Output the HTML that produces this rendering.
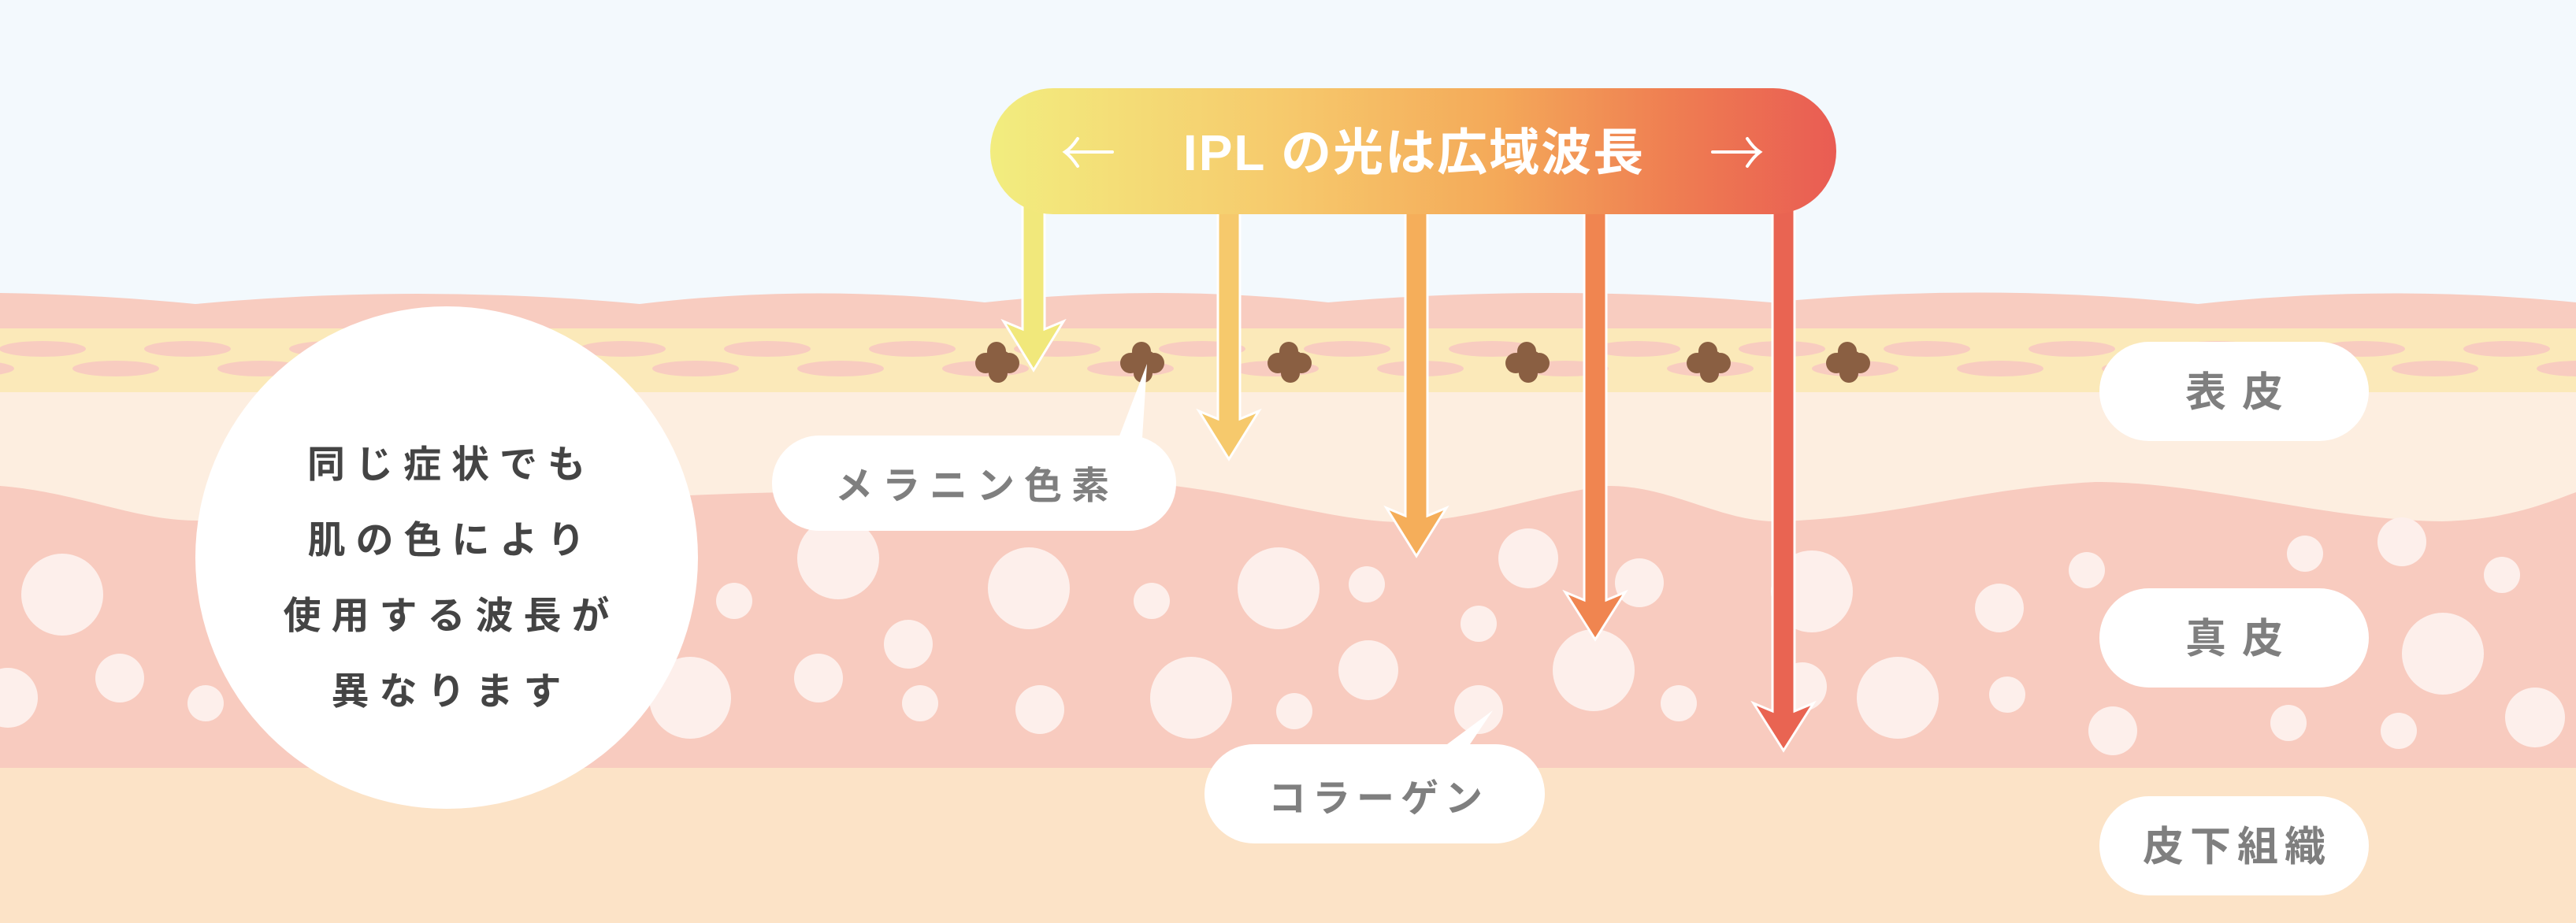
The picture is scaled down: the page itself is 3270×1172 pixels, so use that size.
<!DOCTYPE html>
<html><head><meta charset="utf-8"><style>
html,body{margin:0;padding:0;background:#f3f9fd;}
svg{display:block;}
text{font-family:"Liberation Sans","Noto Sans CJK JP",sans-serif;}
</style></head><body>
<svg width="3270" height="1172" viewBox="0 0 3270 1172" xmlns="http://www.w3.org/2000/svg">
<defs>
<linearGradient id="g" x1="0" x2="1" y1="0" y2="0">
<stop offset="0" stop-color="#f2ed7f"/>
<stop offset="0.35" stop-color="#f6c96c"/>
<stop offset="0.6" stop-color="#f4a959"/>
<stop offset="0.8" stop-color="#ef7f52"/>
<stop offset="1" stop-color="#e95c53"/>
</linearGradient>
<g id="mel"><circle cx="-1" cy="-14" r="12"/><circle cx="-15" cy="1" r="13"/><circle cx="15" cy="1" r="13"/><circle cx="1" cy="14" r="12"/><rect x="-15" y="-14" width="30" height="28" rx="6"/></g>
</defs>
<rect width="3270" height="1172" fill="#f3f9fd"/>
<path d="M0 372 Q124 374 248 386 Q530 360 812 386 Q1030 360 1250 384 Q1470 360 1686 384 Q1970 360 2248 384 Q2520 358 2790 386 Q3030 360 3270 384 L3270 1172 L0 1172 Z" fill="#f8ccc0"/>
<rect x="0" y="417" width="3270" height="81" fill="#fbe9b9"/>
<rect x="0" y="498" width="3270" height="200" fill="#fdeee0"/>
<path d="M0 617 C100 625 170 661 250 661 C500 655 750 630 1000 625 C1200 620 1350 612 1491 617 C1600 630 1700 663 1780 663 C1880 660 1960 625 2042 617 C2120 617 2180 660 2250 662 C2400 660 2500 620 2660 612 C2800 612 2950 660 3100 662 C3180 660 3230 640 3270 625 L3270 975 L0 975 Z" fill="#f8cbbf"/>
<rect x="0" y="975" width="3270" height="197" fill="#fce3c7"/>
<g fill="#fdefeb">
<circle cx="79" cy="755" r="52"/><circle cx="152" cy="861" r="31"/><circle cx="261" cy="893" r="23"/><circle cx="10" cy="886" r="38"/>
<circle cx="876" cy="886" r="52"/><circle cx="932" cy="763" r="23"/><circle cx="1064" cy="709" r="52"/><circle cx="1153" cy="818" r="31"/>
<circle cx="1039" cy="861" r="31"/><circle cx="1168" cy="893" r="23"/><circle cx="1306" cy="747" r="52"/><circle cx="1320" cy="901" r="31"/>
<circle cx="1462" cy="763" r="23"/><circle cx="1512" cy="886" r="52"/><circle cx="1623" cy="747" r="52"/><circle cx="1643" cy="903" r="23"/>
<circle cx="1737" cy="851" r="38"/><circle cx="1735" cy="742" r="23"/><circle cx="1877" cy="792" r="23"/><circle cx="1877" cy="901" r="31"/>
<circle cx="1940" cy="709" r="38"/><circle cx="2023" cy="851" r="52"/><circle cx="2081" cy="740" r="31"/><circle cx="2131" cy="893" r="23"/>
<circle cx="2288" cy="872" r="31"/><circle cx="2300" cy="751" r="52"/><circle cx="2409" cy="886" r="52"/><circle cx="2538" cy="772" r="31"/>
<circle cx="2548" cy="882" r="23"/><circle cx="2649" cy="724" r="23"/><circle cx="2682" cy="928" r="31"/><circle cx="2905" cy="918" r="23"/>
<circle cx="2926" cy="703" r="23"/><circle cx="3049" cy="688" r="31"/><circle cx="3101" cy="830" r="52"/><circle cx="3176" cy="730" r="23"/>
<circle cx="3218" cy="911" r="38"/><circle cx="3045" cy="928" r="23"/>
</g>
<g fill="#f8ccc0">
<ellipse cx="54" cy="443" rx="55" ry="10"/><ellipse cx="238" cy="443" rx="55" ry="10"/><ellipse cx="422" cy="443" rx="55" ry="10"/><ellipse cx="606" cy="443" rx="55" ry="10"/><ellipse cx="790" cy="443" rx="55" ry="10"/><ellipse cx="974" cy="443" rx="55" ry="10"/><ellipse cx="1158" cy="443" rx="55" ry="10"/><ellipse cx="1342" cy="443" rx="55" ry="10"/><ellipse cx="1526" cy="443" rx="55" ry="10"/><ellipse cx="1710" cy="443" rx="55" ry="10"/><ellipse cx="1894" cy="443" rx="55" ry="10"/><ellipse cx="2078" cy="443" rx="55" ry="10"/><ellipse cx="2262" cy="443" rx="55" ry="10"/><ellipse cx="2446" cy="443" rx="55" ry="10"/><ellipse cx="2630" cy="443" rx="55" ry="10"/><ellipse cx="2814" cy="443" rx="55" ry="10"/><ellipse cx="2998" cy="443" rx="55" ry="10"/><ellipse cx="3182" cy="443" rx="55" ry="10"/>
<ellipse cx="-37" cy="468" rx="55" ry="10"/><ellipse cx="147" cy="468" rx="55" ry="10"/><ellipse cx="331" cy="468" rx="55" ry="10"/><ellipse cx="515" cy="468" rx="55" ry="10"/><ellipse cx="699" cy="468" rx="55" ry="10"/><ellipse cx="883" cy="468" rx="55" ry="10"/><ellipse cx="1067" cy="468" rx="55" ry="10"/><ellipse cx="1251" cy="468" rx="55" ry="10"/><ellipse cx="1435" cy="468" rx="55" ry="10"/><ellipse cx="1619" cy="468" rx="55" ry="10"/><ellipse cx="1803" cy="468" rx="55" ry="10"/><ellipse cx="1987" cy="468" rx="55" ry="10"/><ellipse cx="2171" cy="468" rx="55" ry="10"/><ellipse cx="2355" cy="468" rx="55" ry="10"/><ellipse cx="2539" cy="468" rx="55" ry="10"/><ellipse cx="2723" cy="468" rx="55" ry="10"/><ellipse cx="2907" cy="468" rx="55" ry="10"/><ellipse cx="3091" cy="468" rx="55" ry="10"/><ellipse cx="3275" cy="468" rx="55" ry="10"/>
</g>
<g fill="#8a5f42">
<use href="#mel" x="1266" y="460"/><use href="#mel" x="1450" y="460"/><use href="#mel" x="1637" y="460"/><use href="#mel" x="1939" y="460"/><use href="#mel" x="2169" y="460"/><use href="#mel" x="2346" y="460"/>
</g>
<circle cx="567" cy="708" r="319" fill="#fff"/>
<g font-size="48" font-weight="bold" fill="#444" text-anchor="middle" letter-spacing="13">
<text x="573" y="606">同じ症状でも</text>
<text x="573" y="702">肌の色により</text>
<text x="573" y="798">使用する波長が</text>
<text x="573" y="894">異なります</text>
</g>
<g stroke="#fff" stroke-width="3" stroke-linejoin="miter">
<path d="M1298 260 L1298 418 L1274 408 L1312 470 L1350 408 L1326 418 L1326 260 Z" fill="#f1e87b"/>
<path d="M1546 260 L1546 532 L1522 522 L1560 583 L1598 522 L1574 532 L1574 260 Z" fill="#f6c96c"/>
<path d="M1784 260 L1784 655 L1760 645 L1798 706 L1836 645 L1812 655 L1812 260 Z" fill="#f5ae5a"/>
<path d="M2011 260 L2011 762 L1987 752 L2025 812 L2063 752 L2039 762 L2039 260 Z" fill="#f08550"/>
<path d="M2250 260 L2250 903 L2226 893 L2264 953 L2302 893 L2278 903 L2278 260 Z" fill="#e96452"/>
</g>
<rect x="1257" y="112" width="1074" height="160" rx="80" ry="80" fill="url(#g)"/>
<g stroke="#fff" stroke-width="4" fill="none" stroke-linecap="round">
<path d="M1352 193 L1412 193 M1368 176 Q1360 188 1352 193 Q1360 199 1368 211"/>
<path d="M2174 193 L2234 193 M2218 176 Q2226 188 2234 193 Q2226 199 2218 211"/>
</g>
<text x="1795" y="216" font-size="64" font-weight="bold" fill="#fff" text-anchor="middle" letter-spacing="2">IPL の光は広域波長</text>
<path d="M1420 556 L1456 462 L1450 556 Z" fill="#fff"/>
<rect x="980" y="553" width="513" height="121" rx="60" fill="#fff"/>
<text x="1240" y="633" font-size="48" font-weight="bold" fill="#7f7f7f" text-anchor="middle" letter-spacing="12">メラニン色素</text>
<path d="M1833 948 L1895 902 L1864 948 Z" fill="#fff"/>
<rect x="1529" y="945" width="432" height="126" rx="63" fill="#fff"/>
<text x="1750" y="1030" font-size="48" font-weight="bold" fill="#7f7f7f" text-anchor="middle" letter-spacing="8">コラーゲン</text>
<rect x="2665" y="434" width="342" height="126" rx="63" fill="#fff"/>
<rect x="2665" y="747" width="342" height="126" rx="63" fill="#fff"/>
<rect x="2665" y="1011" width="342" height="126" rx="63" fill="#fff"/>
<g font-size="52" font-weight="bold" fill="#7f7f7f" text-anchor="middle">
<text x="2846" y="516" letter-spacing="20">表皮</text>
<text x="2846" y="829" letter-spacing="20">真皮</text>
<text x="2840" y="1093" letter-spacing="8">皮下組織</text>
</g>
</svg>
</body></html>
